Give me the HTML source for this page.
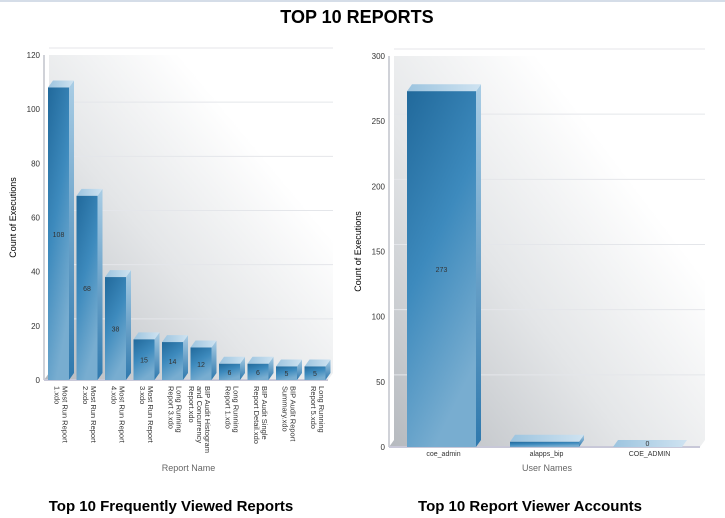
<!DOCTYPE html>
<html><head><meta charset="utf-8"><style>
html,body{margin:0;padding:0;background:#fff;width:725px;height:518px;overflow:hidden;font-family:"Liberation Sans",sans-serif}
svg{position:absolute;left:0;top:0}
</style></head><body>
<svg id="s" width="725" height="518" xmlns="http://www.w3.org/2000/svg">
<defs>
<linearGradient id="bg" x1="0" y1="1" x2="0.75" y2="0.3">
<stop offset="0" stop-color="#b5b9be"/><stop offset="0.55" stop-color="#e4e6e8"/><stop offset="1" stop-color="#ffffff"/>
</linearGradient>
<linearGradient id="front" x1="0" y1="0" x2="0.4" y2="1">
<stop offset="0" stop-color="#21699b"/><stop offset="0.5" stop-color="#3d8abd"/><stop offset="1" stop-color="#78add0"/>
</linearGradient>
<linearGradient id="top" x1="0" y1="0" x2="1" y2="0">
<stop offset="0" stop-color="#9cc4df"/><stop offset="1" stop-color="#cfe3f1"/>
</linearGradient>
<linearGradient id="side" x1="0" y1="0" x2="0" y2="1">
<stop offset="0" stop-color="#a9cde5"/><stop offset="1" stop-color="#2e78ad"/>
</linearGradient>
</defs>
<rect x="0" y="0" width="725" height="2" fill="#d5dde8"/>
<text x="357" y="23" text-anchor="middle" font-size="18" font-weight="bold" fill="#000">TOP 10 REPORTS</text>
<g id="c1"></g>
<g id="c2"></g>
<text x="171" y="511" text-anchor="middle" font-size="15" font-weight="bold" fill="#000">Top 10 Frequently Viewed Reports</text>
<text x="530" y="511" text-anchor="middle" font-size="15" font-weight="bold" fill="#000">Top 10 Report Viewer Accounts</text>
</svg>
<script>
const reportNames = [["Most Run Report","1.xdo"],["Most Run Report","2.xdo"],["Most Run Report","4.xdo"],["Most Run Report","3.xdo"],["Long Running","Report 3.xdo"],["BIP Audit Histogram","and Concurrency","Report.xdo"],["Long Running","Report 1.xdo"],["BIP Audit Single","Report Detail.xdo"],["BIP Audit Report","Summary.xdo"],["Long Running","Report 5.xdo"]];
const reportCounts = [108,68,38,15,14,12,6,6,5,5];
const reportTicks = [0,20,40,60,80,100,120];
const userNames = ["coe_admin","alapps_bip","COE_ADMIN"];
const userCounts = [273,4,0];
const userTicks = [0,50,100,150,200,250,300];

const NS="http://www.w3.org/2000/svg";
function mk(p,tag,attrs,txt){const e=document.createElementNS(NS,tag);for(const k in attrs)e.setAttribute(k,attrs[k]);if(txt!==undefined)e.textContent=txt;p.appendChild(e);return e;}

function chart(g,cfg){
  const {x0,x1,y0,yTop,max,ticks,cats,vals,slot,bw,dx,dy,rotate,xTitle,xTitleY}=cfg;
  const ys=v=>y0-(v/max)*(y0-yTop);
  const bg=mk(g,'polygon',{points:`${x0},${y0} ${x0+dx},${y0-dy} ${x0+dx},${yTop} ${x1},${yTop} ${x1},${y0-dy} ${x1-dx},${y0}`,fill:'url(#bg)'});
  
  
  ticks.forEach(t=>{
    const y=ys(t);
    if(t>0){const l=mk(g,'line',{x1:x0+dx,y1:y-dy,x2:x1,y2:y-dy,stroke:'#e4e6ea','stroke-width':1});
      
      }
    const tx=mk(g,'text',{x:x0-4,y:y+3,'text-anchor':'end','font-size':8,fill:'#333'},String(t));
    
    
  });
  const ax=mk(g,'line',{x1:x0,y1:yTop,x2:x0,y2:y0,stroke:'#a0a4b0','stroke-width':1});
  
  
  const bx=mk(g,'line',{x1:x0,y1:y0,x2:x1-dx,y2:y0,stroke:'#c8c8d8','stroke-width':2});
  
  
  vals.forEach((v,i)=>{
    const bx0=x0+cfg.off+i*slot, top=ys(v);
    const bg2=mk(g,'g',{});
    
    
    mk(bg2,'polygon',{points:`${bx0+bw},${top} ${bx0+bw+dx},${top-dy} ${bx0+bw+dx},${y0-dy} ${bx0+bw},${y0}`,fill:'url(#side)'});
    mk(bg2,'polygon',{points:`${bx0},${top} ${bx0+dx},${top-dy} ${bx0+bw+dx},${top-dy} ${bx0+bw},${top}`,fill:'url(#top)'});
    if(y0-top>0.5) mk(bg2,'rect',{x:bx0,y:top,width:bw,height:y0-top,fill:'url(#front)'});
    const h=y0-top;
    if(v===0||h>=8){
      const lbl=mk(g,'text',{x:bx0+bw/2,y:v>0?(top+y0)/2+3:y0-1,'text-anchor':'middle','font-size':7,fill:'#333'},String(v));
      
      
    }
    const cx=bx0+bw/2;
    if(rotate){
      const lines=cats[i];
      lines.forEach((ln,j)=>{
        const lx=cx+4-(j*8);
        const t=mk(g,'text',{x:0,y:0,'font-size':7.5,fill:'#333',transform:`translate(${lx},${y0+6}) rotate(90)`},ln);
        
        
      });
    } else {
      const t=mk(g,'text',{x:cx+2,y:y0+9,'text-anchor':'middle','font-size':7,fill:'#333'},cats[i]);
      
      
    }
  });
  const xt=mk(g,'text',{x:(x0+x1)/2,y:xTitleY,'text-anchor':'middle','font-size':9,fill:'#666'},xTitle);
  
  
  const yt=mk(g,'text',{x:0,y:0,'text-anchor':'middle','font-size':9,fill:'#000',transform:`translate(${cfg.yTitleX},${(yTop+y0)/2}) rotate(-90)`},'Count of Executions');
  
  
}
chart(document.getElementById('c1'),{x0:44,x1:333,y0:380,yTop:55,max:120,ticks:reportTicks,cats:reportNames,vals:reportCounts,slot:28.5,off:4,bw:21,dx:5,dy:7,rotate:true,xTitle:'Report Name',xTitleY:471,yTitleX:16});
chart(document.getElementById('c2'),{x0:389,x1:705,y0:447,yTop:56,max:300,ticks:userTicks,cats:userNames,vals:userCounts,slot:103,off:18,bw:69,dx:5,dy:7,rotate:false,xTitle:'User Names',xTitleY:471,yTitleX:361});
</script>
</body></html>
